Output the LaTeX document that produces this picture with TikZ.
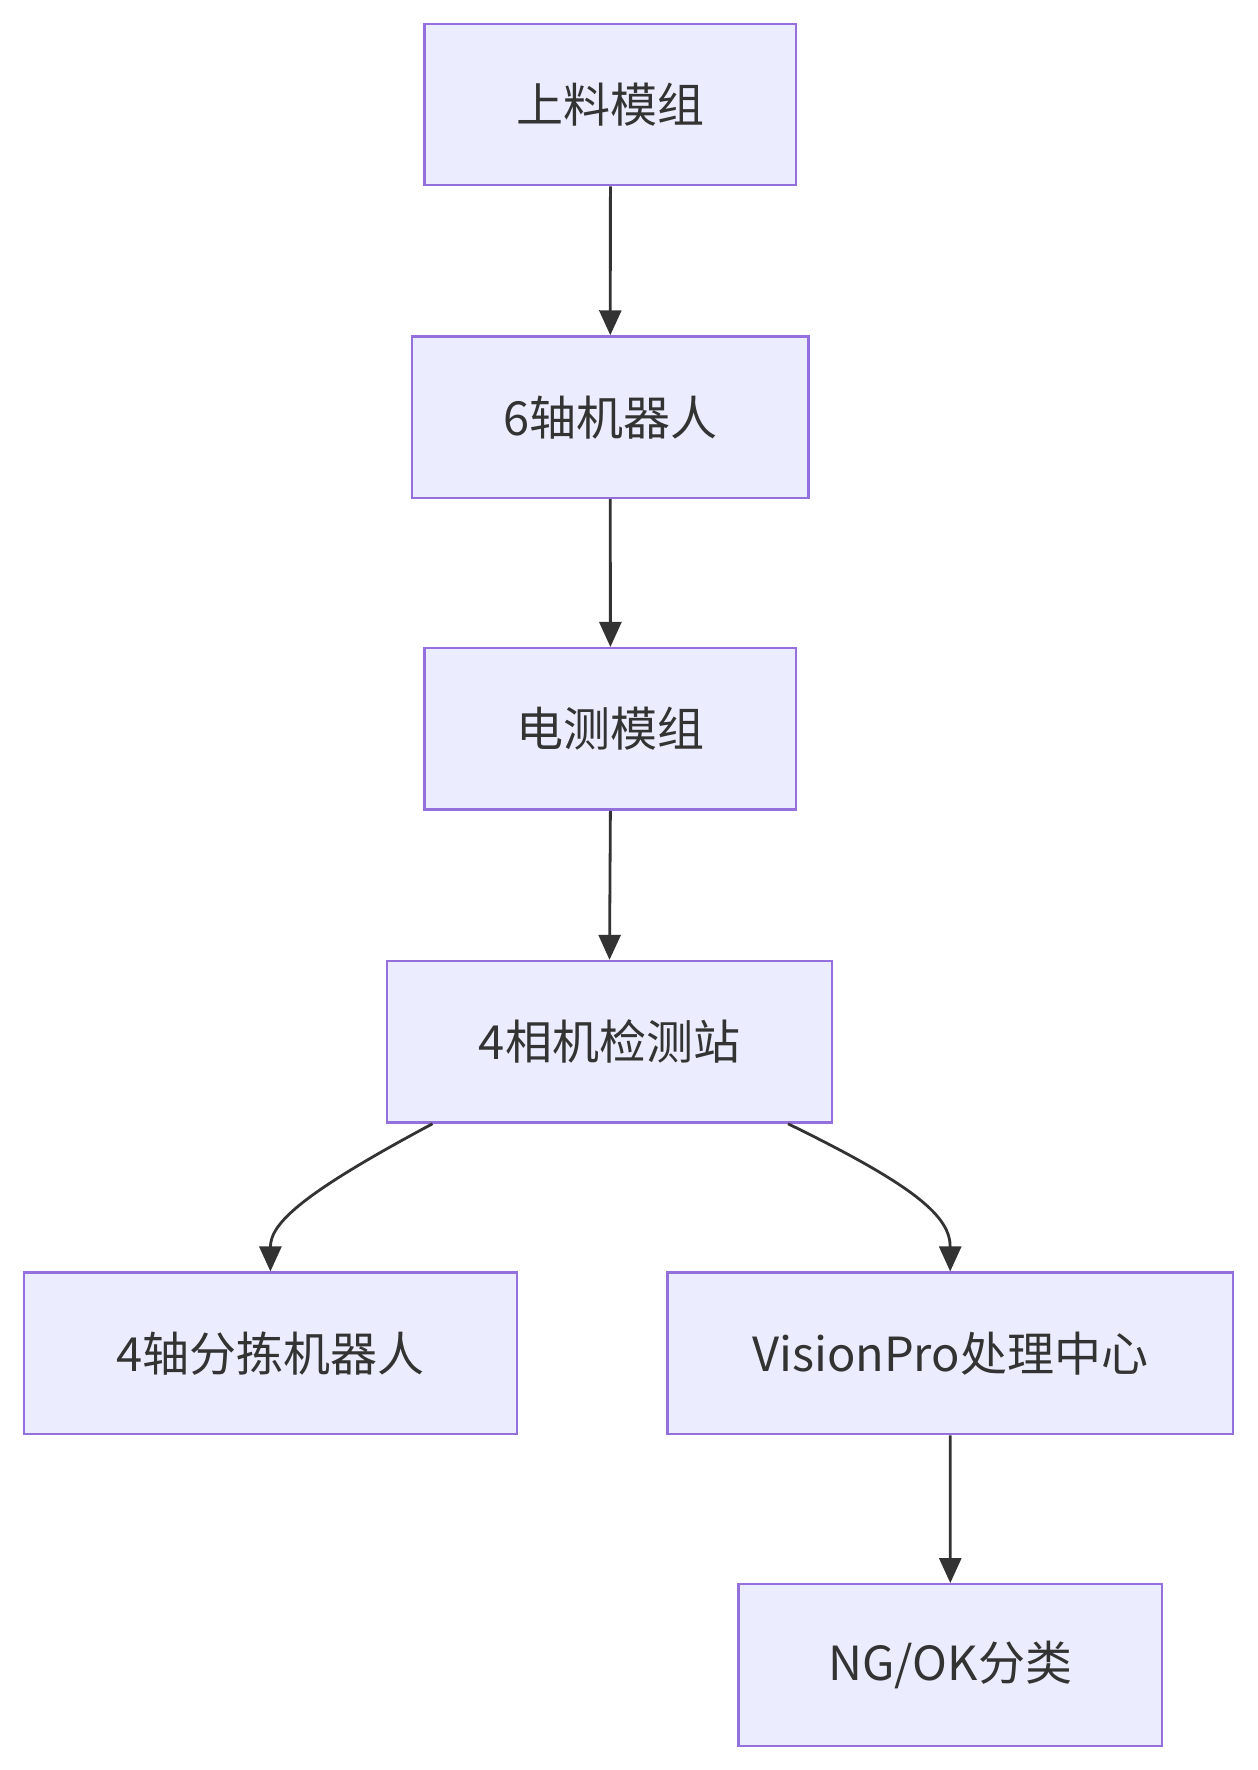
\documentclass[tikz,border=0pt]{standalone}
\usepackage{fontspec}
\setmainfont{Noto Sans CJK SC}
\usetikzlibrary{arrows.meta}
\definecolor{boxfill}{HTML}{ECECFF}
\definecolor{boxline}{HTML}{9370DB}
\definecolor{ink}{HTML}{333333}
\tikzset{
  box/.style={draw=boxline, fill=boxfill, line width=2.4pt, inner sep=0pt,
    minimum height=161.5pt, text=ink, font=\fontsize{47}{56}\selectfont},
  edge/.style={draw=ink, line width=2.8pt, -{Triangle[length=25pt,width=22pt]}}
}
\begin{document}
\begin{tikzpicture}[x=1pt,y=-1pt]
\useasboundingbox (0,0) rectangle (1258,1770);
\node[box, minimum width=371.6pt] (n1) at (610.4,104.5) {上料模组};
\node[box, minimum width=396.6pt] (n2) at (610.3,417.2) {6轴机器人};
\node[box, minimum width=371.6pt] (n3) at (610.4,728.9) {电测模组};
\node[box, minimum width=445pt] (n4) at (609.5,1041.8) {4相机检测站};
\node[box, minimum width=493.3pt] (n5) at (270.4,1353.4) {4轴分拣机器人};
\node[box, minimum width=565.6pt] (n6) at (950.2,1353.4) {VisionPro处理中心};
\node[box, minimum width=423.5pt] (n7) at (950.3,1665) {NG/OK分类};
\draw[edge] (n1.south) -- (n2.north);
\draw[edge] (n2.south) -- (n3.north);
\draw[edge] (n3.south) -- (n4.north);
\draw[edge] ([xshift=-177pt]n4.south) .. controls (303,1193) and (270.4,1223) .. (n5.north);
\draw[edge] ([xshift=178.5pt]n4.south) .. controls (917.6,1187) and (950.2,1217) .. (n6.north);
\draw[edge] (n6.south) -- (n7.north);
\end{tikzpicture}
\end{document}
